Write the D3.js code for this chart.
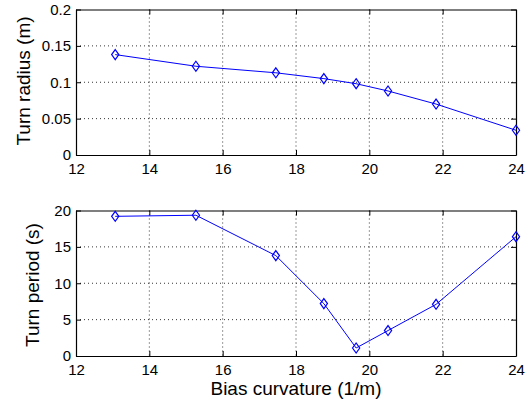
<!DOCTYPE html>
<html lang="en">
<head>
<meta charset="UTF-8">
<title>Turn radius and period vs bias curvature</title>
<script src="https://d3js.org/d3.v7.min.js"></script>
<style>
  body { margin: 0; background: #fff; }
  svg text { font-family: "Liberation Sans", Arial, sans-serif; fill: #000; }
  .tick text { font-size: 15px; }
  .label { font-size: 19px; }
  .grid line { stroke: #000; stroke-width: 0.8; stroke-dasharray: 1 3; }
</style>
</head>
<body>
<svg id="chart" width="530" height="402"></svg>
<script>
const curvature = [13.07, 15.27, 17.45, 18.76, 19.64, 20.51, 21.82, 24.0];
const turnRadius = [0.138, 0.122, 0.113, 0.105, 0.098, 0.088, 0.070, 0.034];
const turnPeriod = [19.2, 19.35, 13.8, 7.2, 1.1, 3.5, 7.1, 16.4];

const xTicks = [12, 14, 16, 18, 20, 22, 24];
const radiusTicks = [0, 0.05, 0.1, 0.15, 0.2];
const periodTicks = [0, 5, 10, 15, 20];

const svg = d3.select("#chart");
const left = 76, right = 516;

const x = d3.scaleLinear().domain([12, 24]).range([left, right]);

function panel(top, bottom, yDomain, yTicks, values, yLabel, labelX, labelY) {
  const y = d3.scaleLinear().domain(yDomain).range([bottom, top]);
  const g = svg.append("g");

  // dotted grid
  const grid = g.append("g").attr("class", "grid");
  grid.selectAll(".vx").data(xTicks.slice(1, -1)).join("line")
    .attr("x1", d => x(d)).attr("x2", d => x(d))
    .attr("y1", top).attr("y2", bottom);
  grid.selectAll(".hy").data(yTicks.slice(1, -1)).join("line")
    .attr("x1", left).attr("x2", right)
    .attr("y1", d => y(d)).attr("y2", d => y(d));

  // axes with inward ticks
  g.append("g").attr("transform", `translate(0,${bottom})`)
    .call(d3.axisBottom(x).tickValues(xTicks).tickFormat(d3.format("d"))
      .tickSizeInner(-5).tickSizeOuter(0).tickPadding(8));
  g.append("g").attr("transform", `translate(0,${top})`)
    .call(d3.axisTop(x).tickValues(xTicks).tickFormat("")
      .tickSizeInner(-5).tickSizeOuter(0));
  g.append("g").attr("transform", `translate(${left},0)`)
    .call(d3.axisLeft(y).tickValues(yTicks).tickFormat(d => String(d))
      .tickSizeInner(-5).tickSizeOuter(0).tickPadding(5));
  g.append("g").attr("transform", `translate(${right},0)`)
    .call(d3.axisRight(y).tickValues(yTicks).tickFormat("")
      .tickSizeInner(-5).tickSizeOuter(0));
  g.selectAll(".domain").attr("stroke", "#000").attr("stroke-width", 1.2);
  g.selectAll(".tick line").attr("stroke", "#000");

  const pts = curvature.map((c, i) => [c, values[i]]);
  g.append("path")
    .datum(pts)
    .attr("fill", "none")
    .attr("stroke", "#0000ff")
    .attr("stroke-width", 1)
    .attr("d", d3.line().x(d => x(d[0])).y(d => y(d[1])));

  g.selectAll(".marker").data(pts).join("path")
    .attr("fill", "none")
    .attr("stroke", "#0000ff")
    .attr("stroke-width", 1.2)
    .attr("transform", d => `translate(${x(d[0])},${y(d[1])})`)
    .attr("d", "M0,-5L3.6,0L0,5L-3.6,0Z");

  g.append("text").attr("class", "label")
    .attr("transform", `translate(${labelX},${labelY}) rotate(-90)`)
    .attr("text-anchor", "middle")
    .text(yLabel);
}

panel(9.5, 155, [0, 0.2], radiusTicks, turnRadius, "Turn radius (m)", 30, 81);
panel(210.5, 356, [0, 20], periodTicks, turnPeriod, "Turn period (s)", 38.5, 285);

svg.append("text").attr("class", "label")
  .attr("x", (left + right) / 2).attr("y", 395)
  .attr("text-anchor", "middle")
  .text("Bias curvature (1/m)");
</script>
</body>
</html>
